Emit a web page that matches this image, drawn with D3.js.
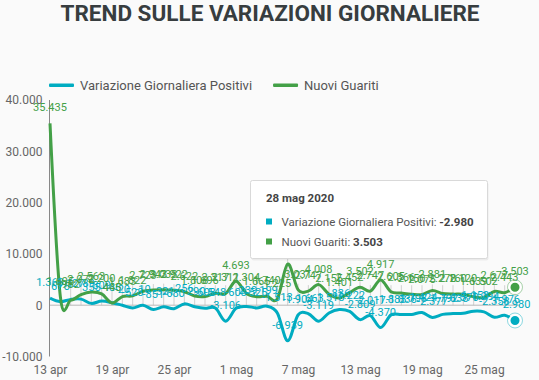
<!DOCTYPE html>
<html>
<head>
<meta charset="utf-8">
<script src="https://cdn.jsdelivr.net/npm/d3@7"></script>
<style>
  html, body { margin: 0; padding: 0; background: #fafafa; }
  svg { display: block; font-family: Roboto, "Noto Sans", sans-serif; }
</style>
</head>
<body>
<svg id="chart" width="539" height="380"></svg>
<script>
// ---- DATA ----
const dates = [
  "2020-04-13","2020-04-14","2020-04-15","2020-04-16","2020-04-17","2020-04-18","2020-04-19",
  "2020-04-20","2020-04-21","2020-04-22","2020-04-23","2020-04-24","2020-04-25","2020-04-26",
  "2020-04-27","2020-04-28","2020-04-29","2020-04-30","2020-05-01","2020-05-02","2020-05-03",
  "2020-05-04","2020-05-05","2020-05-06","2020-05-07","2020-05-08","2020-05-09","2020-05-10",
  "2020-05-11","2020-05-12","2020-05-13","2020-05-14","2020-05-15","2020-05-16","2020-05-17",
  "2020-05-18","2020-05-19","2020-05-20","2020-05-21","2020-05-22","2020-05-23","2020-05-24",
  "2020-05-25","2020-05-26","2020-05-27","2020-05-28"
];
const variazionePositivi = [
  1363, 675, 1127, 1189, 355, 809, 486, -20, -528, -10, -851, -321, -680, 256,
  -290, -608, -548, -3106, -608, -239, -525, -199, -1513, -6939, -1904, -1663, -3119, -1518,
  -836, -1222, -2809, -2017, -4370, -1883, -1836, -1798, -1424, -2377, -1792, -1638, -1570, -1158,
  -1294, -2358, -1976, -2980
];
const nuoviGuariti = [
  35435, 1695, 962, 2072, 2563, 2200, 445, 1683, 1822, 2723, 2943, 3033, 2922, 2622,
  1808, 1696, 2317, 2311, 4693, 2304, 1665, 1740, 1225, 8014, 3031, 2747, 4008, 2155,
  1401, 2452, 3502, 2747, 4917, 2605, 2366, 2150, 2075, 2881, 2278, 2160, 2120, 1639,
  1502, 2677, 2443, 3503
];
const seriesNames = ["Variazione Giornaliera Positivi", "Nuovi Guariti"];
const seriesColors = ["#00acc1", "#43a047"];
const yTicks = [-10000, 0, 10000, 20000, 30000, 40000];
const xTickDates = ["2020-04-13","2020-04-19","2020-04-25","2020-05-01","2020-05-07","2020-05-13","2020-05-19","2020-05-25"];
const titleText = "TREND SULLE VARIAZIONI GIORNALIERE";

// ---- SETUP ----
const it = d3.formatLocale({decimal: ",", thousands: ".", grouping: [3], currency: ["€", ""], minus: "-"});
const fmt = it.format(",d");
const months = ["gen","feb","mar","apr","mag","giu","lug","ago","set","ott","nov","dic"];
const parse = d3.utcParse("%Y-%m-%d");
const dateObjs = dates.map(parse);
const shortDate = d => d.getUTCDate() + " " + months[d.getUTCMonth()];
const longDate = d => shortDate(d) + " " + d.getUTCFullYear();

const svg = d3.select("#chart");
const x = d3.scaleUtc().domain([dateObjs[0], dateObjs[dateObjs.length - 1]]).range([50, 515]);
const y = d3.scaleLinear().domain([-10000, 40000]).range([356.5, 100]);

const series = [variazionePositivi, nuoviGuariti].map((vals, i) => ({
  name: seriesNames[i], color: seriesColors[i],
  points: vals.map((v, j) => ({date: dateObjs[j], value: v}))
}));

// Title
svg.append("text").attr("x", 270).attr("y", 21).attr("text-anchor", "middle")
  .attr("font-size", 22.5).attr("font-weight", "bold").attr("fill", "#373d3f").text(titleText);

// Legend
const legend = svg.append("g");
let lx = 49;
series.forEach((s, i) => {
  legend.append("rect").attr("x", lx).attr("y", 83.5).attr("width", 25).attr("height", 3.5).attr("fill", s.color).attr("rx", 1);
  const t = legend.append("text").attr("x", lx + 31).attr("y", 89.5).attr("font-size", 13).attr("fill", "#555").text(s.name);
  lx = lx + 31 + t.node().getComputedTextLength() + 21;
});

// drop lines (light vertical)
const grid = svg.append("g");
series[1].points.slice(1).forEach(p => {
  grid.append("line").attr("x1", x(p.date)).attr("x2", x(p.date))
    .attr("y1", y(0)).attr("y2", Math.min(y(p.value) - 6, y(0) - 20))
    .attr("stroke", "#d0d0d0").attr("stroke-width", 1);
});

// Zero line
svg.append("line").attr("x1", 50).attr("x2", 520).attr("y1", y(0)).attr("y2", y(0))
  .attr("stroke", "#b8b8b8").attr("stroke-width", 1);

// Y axis
const yAxis = svg.append("g").attr("transform", "translate(49.5,0)")
  .call(d3.axisLeft(y).tickValues(yTicks).tickSize(0).tickPadding(7).tickFormat(fmt));
yAxis.select(".domain").attr("stroke", "#888").attr("d", `M0,${y(40000)}V${y(-10000)}`);
yAxis.selectAll("text").attr("font-size", 12).attr("fill", "#666").attr("font-family", "Roboto");

// X axis labels
const xAxis = svg.append("g").attr("transform", "translate(0,363)")
  .call(d3.axisBottom(x).tickValues(xTickDates.map(parse)).tickSize(0).tickPadding(2).tickFormat(shortDate));
xAxis.select(".domain").remove();
xAxis.selectAll("text").attr("font-size", 12).attr("fill", "#666").attr("font-family", "Roboto");

// Lines
const line = d3.line().x(d => x(d.date)).y(d => y(d.value)).curve(d3.curveCardinal.tension(0));
series.forEach(s => {
  svg.append("path").datum(s.points).attr("d", line).attr("fill", "none")
    .attr("stroke", s.color).attr("stroke-width", 3).attr("stroke-linejoin", "round");
});

// Data labels
series.forEach(s => {
  svg.append("g").selectAll("text").data(s.points).join("text")
    .attr("x", d => x(d.date)).attr("y", d => y(d.value) - 12)
    .attr("text-anchor", "middle").attr("font-size", 11).attr("fill", s.color)
    .text(d => fmt(d.value));
});

// Active markers at last point
series.forEach(s => {
  const p = s.points[s.points.length - 1];
  svg.append("circle").attr("cx", x(p.date)).attr("cy", y(p.value)).attr("r", 7.5)
    .attr("fill", "none").attr("stroke", s.color).attr("stroke-opacity", 0.45).attr("stroke-width", 1);
  svg.append("circle").attr("cx", x(p.date)).attr("cy", y(p.value)).attr("r", 5.5)
    .attr("fill", s.color).attr("stroke", "#fff").attr("stroke-width", 2);
});

// Tooltip
const tipIdx = dates.length - 1;
const tip = svg.append("g").attr("transform", "translate(250.5,180.5)");
tip.append("rect").attr("x", 1).attr("y", 2).attr("width", 237).attr("height", 78).attr("fill", "#000").attr("opacity", 0.06).attr("rx", 2);
tip.append("rect").attr("width", 237).attr("height", 78).attr("fill", "#fff").attr("stroke", "#d9d9d9").attr("rx", 2);
tip.append("text").attr("x", 15.5).attr("y", 21.5).attr("font-size", 11.5).attr("font-weight", "bold").attr("fill", "#444")
  .text(longDate(dateObjs[tipIdx]));
series.forEach((s, i) => {
  const cy = 41.5 + i * 20;
  tip.append("rect").attr("x", 15.5).attr("y", cy - 3.5).attr("width", 6).attr("height", 6).attr("fill", s.color);
  const t = tip.append("text").attr("x", 31).attr("y", cy + 4).attr("font-size", 11.5).attr("fill", "#555");
  t.append("tspan").text(s.name + ": ");
  t.append("tspan").attr("font-weight", "bold").attr("fill", "#444").text(fmt(s.points[tipIdx].value));
});
</script>
</body>
</html>
